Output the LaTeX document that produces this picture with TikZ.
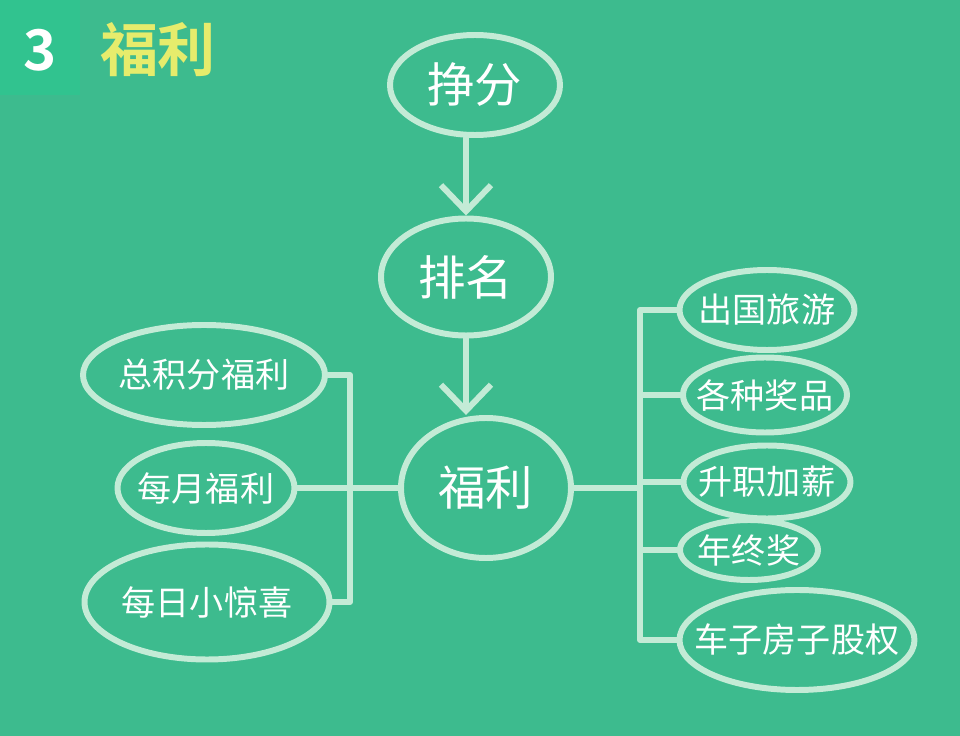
\documentclass[tikz,border=0pt]{standalone}
\usepackage{fontspec}
\newfontfamily\cjk{Noto Sans CJK SC}
\newfontfamily\cjkb{Noto Sans CJK SC Bold}
\usetikzlibrary{shapes.geometric,arrows.meta}
\definecolor{bgc}{HTML}{3DBB8E}
\definecolor{tagc}{HTML}{31C38F}
\definecolor{lnc}{HTML}{C3EBD6}
\definecolor{ttlc}{HTML}{E6EC6C}
\newcommand{\tx}[1]{\makebox[0pt]{#1}}
\begin{document}
\begin{tikzpicture}[line join=round, line cap=round,>={Straight Barb[length=2.6mm,width=5mm]}]
			\tikzset{bub/.style={ellipse, draw=lnc, line width=1.7pt, text=white, inner sep=0pt, font=\cjk\fontsize{9.7}{10}\selectfont},
				big/.style={bub, font=\cjk\fontsize{13.5}{14}\selectfont},
				link/.style={draw=lnc, line width=1.7pt}}
			\fill[bgc] (0,0) rectangle (9.6,-7.36);
			\useasboundingbox (0,0) rectangle (9.6,-7.36);
			% title
			\fill[tagc] (0,0) rectangle (0.8,-0.95);
			\node[text=white, font=\cjkb\fontsize{16}{17}\selectfont] (num) at (0.4,-0.5) {3};
			\node[text=ttlc, font=\cjkb\fontsize{16.5}{17}\selectfont] (ttl) at (1.58,-0.5) {福利};
			% middle column
			\node[big, minimum width=1.7cm, minimum height=1cm] (zf) at (4.75,-0.85) {\tx{挣分}};
			\node[big, minimum width=1.7cm, minimum height=1.17cm] (pm) at (4.66,-2.77) {\tx{排名}};
			\node[big, minimum width=1.7cm, minimum height=1.4cm] (fl) at (4.86,-4.88) {\tx{福利}};
			\draw[link,->] (zf.south -| pm.north) -- (pm.north);
			\draw[link,->] (pm.south) -- (pm.south |- fl.north);
			% left
			\node[bub, minimum width=2.42cm, minimum height=1cm] (zjf) at (2.04,-3.75) {\tx{总积分福利}};
			\node[bub, minimum width=1.77cm, minimum height=0.9cm] (myfl) at (2.06,-4.88) {\tx{每月福利}};
			\node[bub, minimum width=2.45cm, minimum height=1.15cm] (mrxjx) at (2.07,-6.02) {\tx{每日小惊喜}};
			\coordinate (lb) at (3.5,-4.88);
			\draw[link] (myfl.east) -- (fl.west);
			\draw[link] (zjf.east) -| (lb) |- (mrxjx.east);
			% right
			\node[bub, minimum width=1.75cm, minimum height=0.8cm] (cglb) at (7.67,-3.1) {\tx{出国旅游}};
			\node[bub, minimum width=1.64cm, minimum height=0.75cm] (gzjp) at (7.65,-3.95) {\tx{各种奖品}};
			\node[bub, minimum width=1.67cm, minimum height=0.73cm] (szjx) at (7.67,-4.82) {\tx{升职加薪}};
			\node[bub, minimum width=1.38cm, minimum height=0.6cm] (nzj) at (7.49,-5.5) {\tx{年终奖}};
			\node[bub, minimum width=2.35cm, minimum height=1cm] (czfzgq) at (7.97,-6.4) {\tx{车子房子股权}};
			\coordinate (rb) at (6.4,-4.88);
			\draw[link] (fl.east) -- (rb);
			\draw[link] (cglb.west) -| (rb) |- (czfzgq.west);
			\foreach \n in {gzjp,szjx,nzj}
			\draw[link] (\n.west) -- (\n.west -| rb);
\end{tikzpicture}
\end{document}
